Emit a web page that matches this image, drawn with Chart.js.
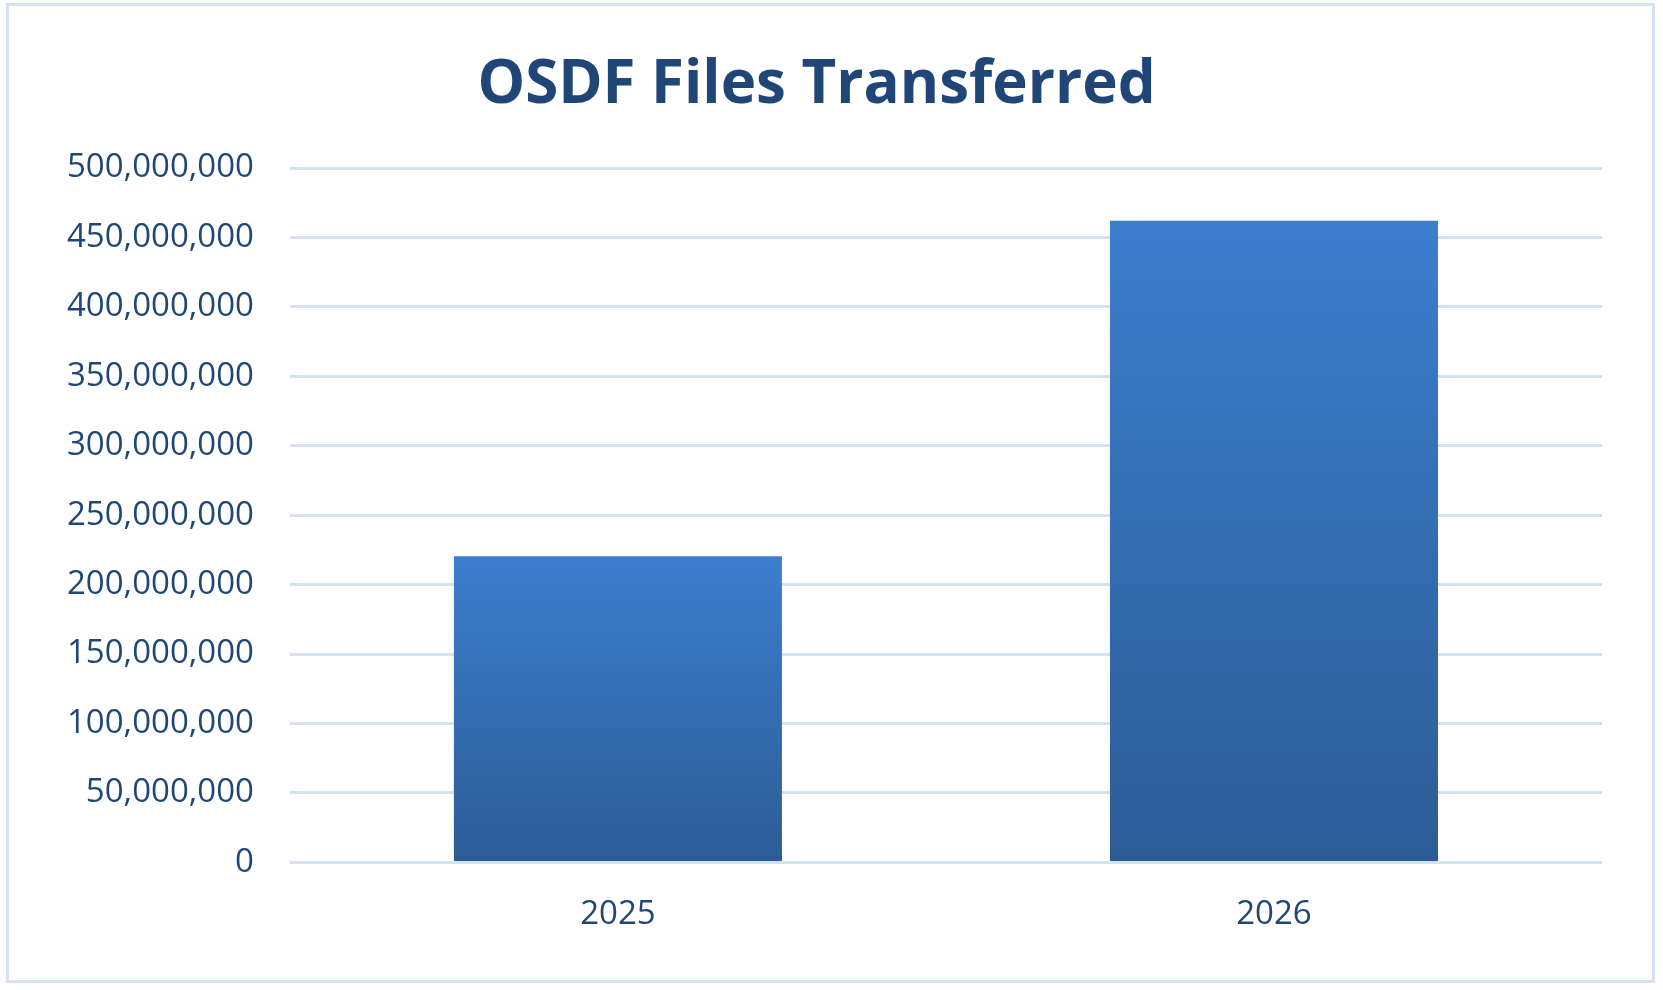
<!DOCTYPE html>
<html>
<head>
<meta charset="utf-8">
<script src="https://cdn.jsdelivr.net/npm/chart.js@4"></script>
<style>
  body { margin: 0; background: #fff; }
  #wrap { position: absolute; left: 6px; top: 3px; width: 1649px; height: 980px; border: 3px solid #d6e2f2; box-sizing: border-box; }
</style>
</head>
<body>
<div id="wrap"><canvas id="bar"></canvas></div>
<script>
const years = ['2025', '2026'];
const filesTransferred = [220500000, 462000000];
const titleText = 'OSDF Files Transferred';

const navy = '#1f4677';

new Chart(
    document.getElementById('bar'),
    {
        type: 'bar',
        data: {
            labels: years,
            datasets: [
                {
                    label: 'Files transferred',
                    data: filesTransferred,
                    // gradient per bar, light at its own top
                    backgroundColor: (ctx) => {
                        const chart = ctx.chart;
                        const area = chart.chartArea;
                        if (!area || ctx.raw === undefined) return '#3470b8';
                        const top = chart.scales.y.getPixelForValue(ctx.raw);
                        const g = chart.ctx.createLinearGradient(0, top, 0, area.bottom);
                        g.addColorStop(0, '#3c7ecd');
                        g.addColorStop(1, '#2c5c96');
                        return g;
                    },
                    barPercentage: 0.5,
                    categoryPercentage: 1
                }
            ]
        },
        options: {
            responsive: true,
            maintainAspectRatio: false,
            animation: false,
            layout: { padding: { left: 22, right: 50, top: 30, bottom: 22 } },
            plugins: {
                legend: { display: false },
                tooltip: { enabled: false },
                title: {
                    display: true,
                    text: titleText,
                    color: navy,
                    font: { family: 'Open Sans', size: 60, weight: 'bold' },
                    padding: { top: 14, bottom: 46 }
                }
            },
            scales: {
                x: {
                    grid: { display: false },
                    border: { display: false },
                    ticks: { color: navy, font: { family: 'Open Sans', size: 33 }, padding: 24 }
                },
                y: {
                    min: 0,
                    max: 500000000,
                    ticks: {
                        stepSize: 50000000,
                        color: navy,
                        font: { family: 'Open Sans', size: 33 },
                        padding: 36,
                        callback: (v) => v.toLocaleString('en-US')
                    },
                    grid: { color: '#d6e2f2', lineWidth: 3, drawTicks: false },
                    border: { display: false }
                }
            }
        }
    }
);
</script>
</body>
</html>
